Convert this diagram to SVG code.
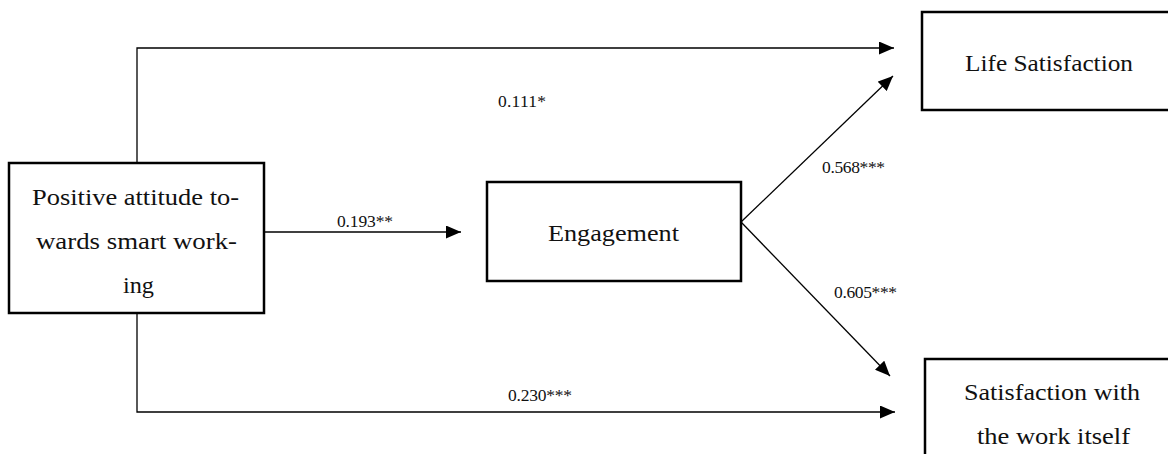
<svg xmlns="http://www.w3.org/2000/svg" width="1168" height="454" viewBox="0 0 1168 454">
<style>
.box{fill:#fff;stroke:#000;stroke-width:2.5}
.node{font-family:"Liberation Serif","Times New Roman",serif;font-size:24px;fill:#111;text-anchor:middle}
.lbl{font-family:"Liberation Serif","Times New Roman",serif;font-size:17.5px;fill:#111}
.conn{fill:none;stroke:#000;stroke-width:1.3}
</style>
<defs>
<marker id="arr" markerUnits="userSpaceOnUse" markerWidth="15" markerHeight="13" refX="15" refY="6.5" orient="auto">
<path d="M0,0 L15,6.5 L0,13 z" fill="#000"/>
</marker>
</defs>
<rect width="1168" height="454" fill="#fff"/>
<g id="connectors">
<path class="conn" d="M137,163 V48 H894" marker-end="url(#arr)"/>
<path class="conn" d="M137,313 V412 H895" marker-end="url(#arr)"/>
<path class="conn" d="M264,232 H461" marker-end="url(#arr)"/>
<path class="conn" d="M741,222 L893,76" marker-end="url(#arr)"/>
<path class="conn" d="M741,222 L890,376" marker-end="url(#arr)"/>
<text class="lbl" x="498" y="107" textLength="48">0.111*</text>
<text class="lbl" x="337" y="227" textLength="56">0.193**</text>
<text class="lbl" x="822" y="173" textLength="63">0.568***</text>
<text class="lbl" x="834" y="298" textLength="63">0.605***</text>
<text class="lbl" x="508" y="401" textLength="64">0.230***</text>
</g>
<g id="node-attitude">
<rect class="box" x="9" y="163" width="255" height="150"/>
<text class="node" x="135.5" y="205" textLength="207" lengthAdjust="spacingAndGlyphs">Positive attitude to-</text>
<text class="node" x="136.5" y="249" textLength="201" lengthAdjust="spacingAndGlyphs">wards smart work-</text>
<text class="node" x="138.5" y="293" textLength="31" lengthAdjust="spacingAndGlyphs">ing</text>
</g>
<g id="node-engagement">
<rect class="box" x="487" y="182" width="254" height="99"/>
<text class="node" x="613.5" y="241" textLength="131" lengthAdjust="spacingAndGlyphs">Engagement</text>
</g>
<g id="node-life">
<rect class="box" x="922" y="12" width="260" height="98"/>
<text class="node" x="1049" y="71" textLength="168" lengthAdjust="spacingAndGlyphs">Life Satisfaction</text>
</g>
<g id="node-work">
<rect class="box" x="925" y="359" width="260" height="110"/>
<text class="node" x="1052" y="400" textLength="176" lengthAdjust="spacingAndGlyphs">Satisfaction with</text>
<text class="node" x="1053.5" y="444" textLength="153" lengthAdjust="spacingAndGlyphs">the work itself</text>
</g>
</svg>
